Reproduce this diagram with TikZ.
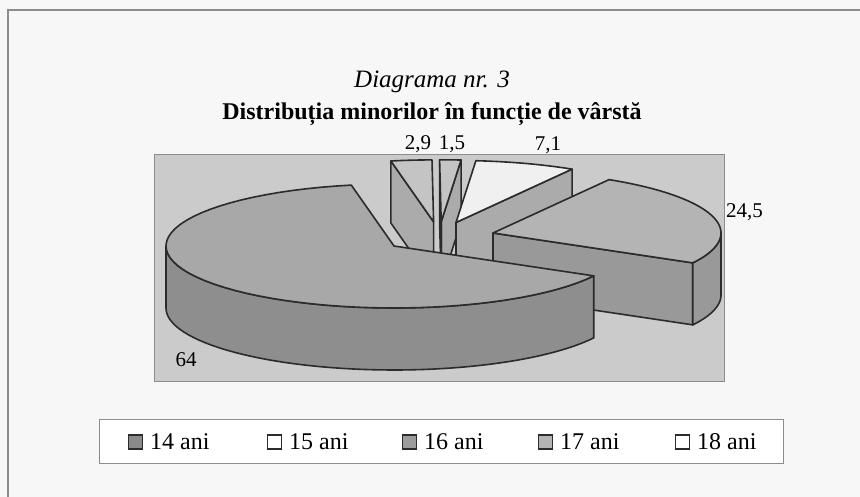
\documentclass[tikz,border=0pt]{standalone}
\usepackage{fontspec}
\setmainfont{Liberation Serif}
\definecolor{bgpage}{HTML}{F7F7F7}
\definecolor{plotbg}{HTML}{CBCBCB}
\definecolor{plotedge}{HTML}{8C8C8C}
\definecolor{edgec}{HTML}{2B2B2B}
\definecolor{bigtop}{HTML}{A8A8A8}
\definecolor{bigside}{HTML}{8E8E8E}
\definecolor{qtop}{HTML}{B4B4B4}
\definecolor{qside}{HTML}{999999}
\definecolor{wtop}{HTML}{F0F0F0}
\definecolor{wside}{HTML}{ABABAB}
\definecolor{stopc}{HTML}{C4C4C4}
\definecolor{sside}{HTML}{ABABAB}
\definecolor{legA}{HTML}{8A8A8A}
\definecolor{legC}{HTML}{9C9C9C}
\definecolor{legD}{HTML}{B4B4B4}
\newcommand{\Ar}{228}
\newcommand{\Br}{62}
\newcommand{\Th}{62}
\newcommand{\topface}[5]{%
  \filldraw[face, fill=#5] (#1,#2) -- plot[domain=#3:#4, samples=60, variable=\q] ({#1+\Ar*cos(\q)},{#2-\Br*sin(\q)}) -- cycle;}
\newcommand{\radface}[4]{%
  \filldraw[face, fill=#4] (#1,#2) -- ({#1+\Ar*cos(#3)},{#2-\Br*sin(#3)}) -- ({#1+\Ar*cos(#3)},{#2-\Br*sin(#3)+\Th}) -- (#1,{#2+\Th}) -- cycle;}
\newcommand{\outface}[5]{%
  \filldraw[face, fill=#5] plot[domain=#3:#4, samples=60, variable=\q] ({#1+\Ar*cos(\q)},{#2-\Br*sin(\q)}) -- plot[domain=#4:#3, samples=60, variable=\q] ({#1+\Ar*cos(\q)},{#2-\Br*sin(\q)+\Th}) -- cycle;}
\begin{document}
\begin{tikzpicture}[x=1pt,y=-1pt,
  face/.style={draw=edgec, line width=1.6pt, line join=round},
  lbl/.style={inner sep=0pt, font=\fontsize{21}{24}\selectfont},
  legtxt/.style={inner sep=0pt, anchor=west, font=\fontsize{24}{27}\selectfont},
  legsq/.style={draw=edgec, line width=1.2pt, minimum size=14pt, inner sep=0pt},
]
\useasboundingbox (0,0) rectangle (860,497);
\fill[bgpage] (0,0) rectangle (860,497);
\draw[plotedge, line width=1.2pt] (8,497) -- (8,10) -- (860,10);

\node[font=\fontsize{25}{29}\selectfont\itshape] (t1) at (432,82) {Diagrama nr. 3};
\node[font=\fontsize{24}{28}\selectfont\bfseries] (t2) at (432,114) {Distribuția minorilor în funcție de vârstă};

\filldraw[fill=plotbg, draw=plotedge, line width=1pt] (154,155) rectangle (724,381);

% 2,9
\radface{433.6}{221.9}{100.8}{sside}
\topface{433.6}{221.9}{90.4}{100.8}{stopc}
% 1,5
\radface{441.2}{221.8}{85}{sside}
\radface{441.2}{221.8}{90.4}{sside}
\topface{441.2}{221.8}{85}{90.4}{stopc}
% 7,1
\radface{456}{222.5}{59.4}{wside}
\topface{456}{222.5}{59.4}{85}{wtop}
% 24,5
\radface{493}{233}{-28.8}{qside}
\outface{493}{233}{-28.8}{0}{qside}
\topface{493}{233}{-28.8}{59.4}{qtop}
% 64
\outface{394}{246}{180}{331.2}{bigside}
\topface{394}{246}{100.8}{331.2}{bigtop}

\node[lbl] (l29) at (418,144) {2,9};
\node[lbl] (l15) at (452,144) {1,5};
\node[lbl] (l71) at (548,145) {7,1};
\node[lbl, anchor=west] (l245) at (726,212) {24,5};
\node[lbl] (l64) at (186,360) {64};

\filldraw[fill=white, draw=plotedge, line width=1pt] (99,419) rectangle (783,463);
\node[legsq, fill=legA] (s14) at (135.5,442) {};
\node[legtxt] (k14) at (150,442) {14 ani};
\node[legsq, fill=white] (s15) at (274.5,442) {};
\node[legtxt] (k15) at (289,442) {15 ani};
\node[legsq, fill=legC] (s16) at (409.5,442) {};
\node[legtxt] (k16) at (424,442) {16 ani};
\node[legsq, fill=legD] (s17) at (545.5,442) {};
\node[legtxt] (k17) at (560,442) {17 ani};
\node[legsq, fill=white] (s18) at (682.5,442) {};
\node[legtxt] (k18) at (697,442) {18 ani};
\end{tikzpicture}
\end{document}
